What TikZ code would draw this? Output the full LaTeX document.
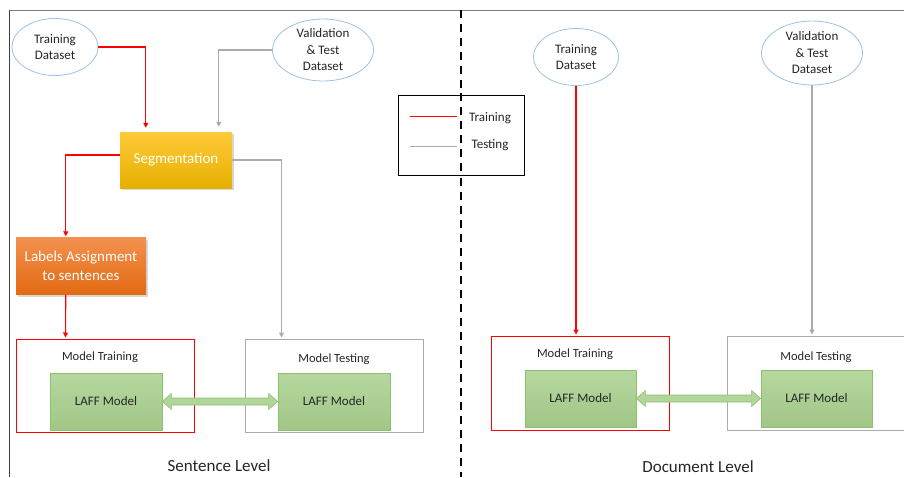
\documentclass[tikz,border=0pt]{standalone}
\usepackage{fontspec}
\setmainfont{Carlito}
\usetikzlibrary{shapes.geometric,arrows.meta,shadows,calc}
\definecolor{setblue}{HTML}{9DC3E6}
\definecolor{trainred}{HTML}{FF0000}
\definecolor{testgray}{HTML}{ABABAB}
\definecolor{txtdark}{HTML}{262626}
\definecolor{laffgreen}{HTML}{A9D18E}
\definecolor{laffborder}{HTML}{8CC26E}
\definecolor{segtop}{HTML}{FFCA3A}
\definecolor{segbottom}{HTML}{E6B000}
\definecolor{labtop}{HTML}{F4914F}
\definecolor{labbottom}{HTML}{E26A12}
\begin{document}
\begin{tikzpicture}[x=1pt,y=-1pt,
        dataset/.style={ellipse, draw=setblue, line width=0.8pt, fill=white, inner sep=0pt,
                text=txtdark, align=center, font=\fontsize{13}{16.5}\selectfont},
        stepbox/.style={rectangle, inner sep=0pt, text=white, align=center,
                font=\fontsize{15}{18.5}\selectfont,
                drop shadow={shadow xshift=1.5pt, shadow yshift=-2pt, opacity=0.3}},
        modelbox/.style={rectangle, line width=1pt, minimum width=178pt, minimum height=93pt, fill=white},
        laffbox/.style={rectangle, draw=laffborder, line width=0.8pt, top color=laffgreen!85!white,
                bottom color=laffgreen!95!black, minimum width=112pt, minimum height=57pt,
                text=txtdark, font=\fontsize{13}{16}\selectfont},
        boxtitle/.style={text=txtdark, font=\fontsize{12.5}{15}\selectfont},
        trainline/.style={draw=trainred, line width=1.1pt, -{Triangle[length=5pt,width=5pt]}},
        testline/.style={draw=testgray, line width=1.1pt, -{Triangle[length=5pt,width=5pt]}},
        levellabel/.style={text=txtdark, font=\fontsize{17}{20}\selectfont}]
    \clip (0,0) rectangle (904,477);
    \fill[white] (0,0) rectangle (904,477);

    \draw[gray, line width=1pt] (9,10) -- (904,10);
    \draw[black!75, line width=1pt] (9,10) -- (9,477);
    \draw[black, line width=2.5pt, dash pattern=on 8pt off 6pt] (461,10) -- (461,477);

    % sentence level
    \node[dataset, minimum width=86pt, minimum height=57pt] (trainL) at (55,47) {Training\\Dataset};
    \node[dataset, minimum width=101pt, minimum height=62pt] (validL) at (323,50) {Validation\\\& Test\\Dataset};
    \node[stepbox, minimum width=112pt, minimum height=56pt, top color=segtop,
        bottom color=segbottom] (seg) at (176,160) {Segmentation};
    \node[stepbox, minimum width=130pt, minimum height=57pt, top color=labtop,
        bottom color=labbottom] (labels) at (81,266) {Labels Assignment\\to sentences};

    \node[modelbox, draw=trainred] (trainboxL) at (105,385.5) {};
    \node[modelbox, draw=testgray] (testboxL) at (334,385.5) {};
    \node[boxtitle] (trtitleL) at (100,357) {Model Training};
    \node[boxtitle] (tetitleL) at (334,359) {Model Testing};
    \node[laffbox] (lafftrL) at (106,401.5) {LAFF Model};
    \node[laffbox] (laffteL) at (334,401.5) {LAFF Model};

    \draw[trainline, shorten >=4pt] (trainL.east) -| ([xshift=26pt]seg.north west);
    \draw[testline, shorten >=5pt] (validL.west) -| ([xshift=99pt]seg.north west);
    \draw[trainline, shorten >=1pt] ([yshift=5pt]seg.west) -| ([xshift=50pt]labels.north west);
    \draw[testline, shorten >=1pt] (seg.east) -| ([xshift=37pt]testboxL.north west);
    \draw[trainline, shorten >=1pt] ([xshift=50pt]labels.south west) -- ([xshift=50pt]trainboxL.north west);

    \draw[draw=laffborder, fill=laffgreen!90!white, line width=0.6pt]
        (lafftrL.east) -- ++(9,-8) -- ++(0,4.5) -- ($(laffteL.west)+(-9,-3.5)$) -- ++(0,-4.5)
        -- (laffteL.west) -- ++(-9,8) -- ++(0,-4.5) -- ($(lafftrL.east)+(9,3.5)$) -- ++(0,4.5) -- cycle;

    \node[levellabel] (sentlevel) at (219,466) {Sentence Level};

    % legend
    \node[rectangle, draw=black, line width=0.8pt, fill=white, minimum width=126pt, minimum height=80pt] (legend) at (461,135) {};
    \draw[black, line width=2.5pt, dash pattern=on 8pt off 6pt] (461,93) -- (461,177);
    \draw[draw=trainred, line width=1.1pt] ([shift={(12,22)}]legend.north west) -- ++(47,0);
    \draw[draw=testgray, line width=1.1pt] ([shift={(12,52)}]legend.north west) -- ++(47,0);
    \node[boxtitle, font=\fontsize{13}{16}\selectfont] (legtrain) at (490,118) {Training};
    \node[boxtitle, font=\fontsize{13}{16}\selectfont] (legtest) at (490,145) {Testing};

    % document level
    \node[dataset, minimum width=85pt, minimum height=57pt] (trainR) at (576,57) {Training\\Dataset};
    \node[dataset, minimum width=101pt, minimum height=64pt] (validR) at (812,53) {Validation\\\& Test\\Dataset};

    \node[modelbox, draw=trainred, minimum height=94pt] (trainboxR) at (580,383) {};
    \node[modelbox, draw=testgray, minimum height=94pt] (testboxR) at (816,383) {};
    \node[boxtitle] (trtitleR) at (575,354) {Model Training};
    \node[boxtitle] (tetitleR) at (816,357) {Model Testing};
    \node[laffbox, minimum width=111pt] (lafftrR) at (580.5,398.5) {LAFF Model};
    \node[laffbox, minimum width=111pt] (laffteR) at (816.5,398.5) {LAFF Model};

    \draw[trainline, shorten >=1pt] (trainR.south) -- (trainR.south |- trainboxR.north);
    \draw[testline, shorten >=1pt] (validR.south) -- (validR.south |- testboxR.north);

    \draw[draw=laffborder, fill=laffgreen!90!white, line width=0.6pt]
        (lafftrR.east) -- ++(9,-8) -- ++(0,4.5) -- ($(laffteR.west)+(-9,-3.5)$) -- ++(0,-4.5)
        -- (laffteR.west) -- ++(-9,8) -- ++(0,-4.5) -- ($(lafftrR.east)+(9,3.5)$) -- ++(0,4.5) -- cycle;

    \node[levellabel] (doclevel) at (698,467) {Document Level};
\end{tikzpicture}
\end{document}
